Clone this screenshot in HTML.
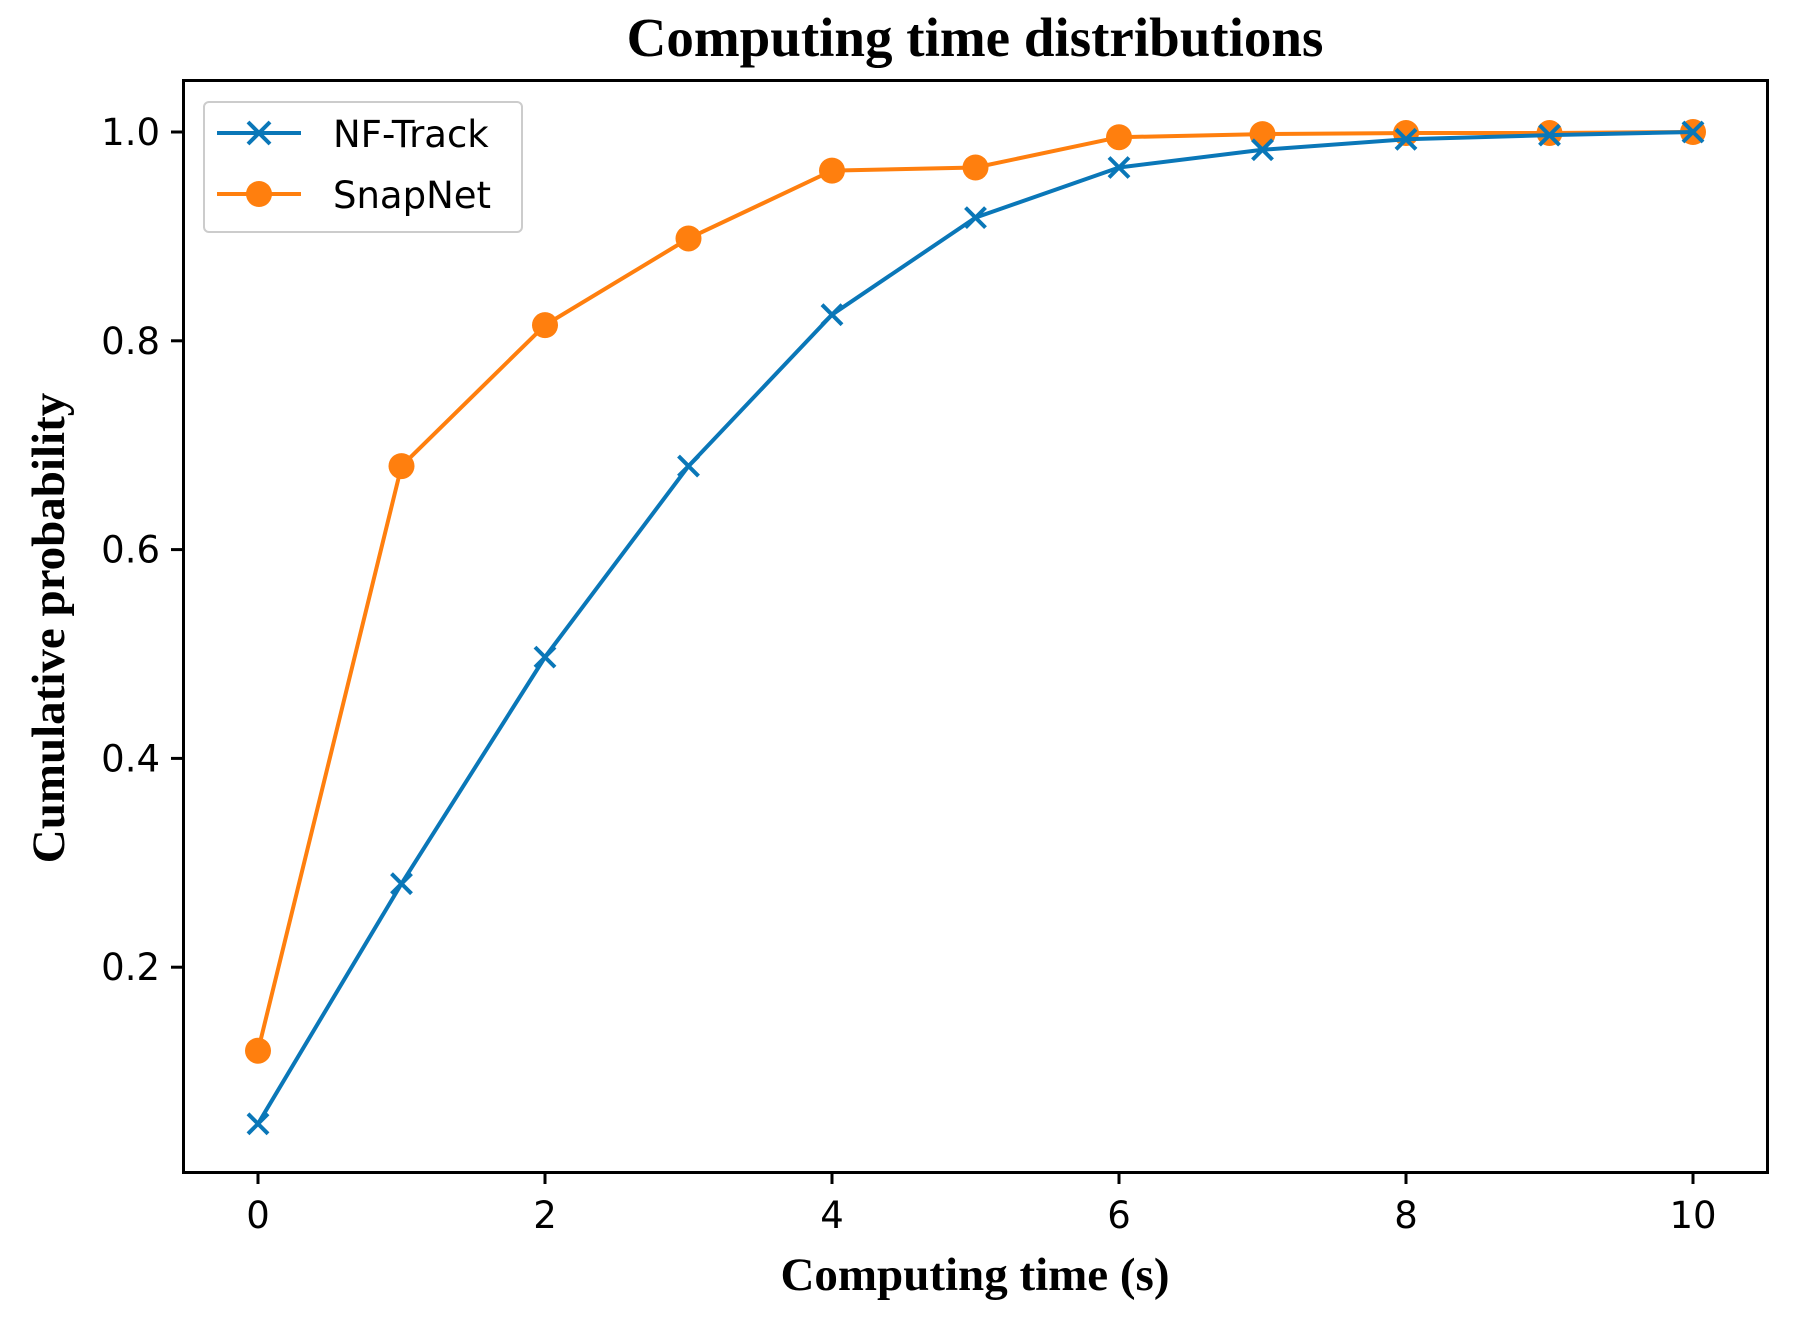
<!DOCTYPE html>
<html><head><meta charset="utf-8"><style>
html,body{margin:0;padding:0;background:#fff;}
svg text{font-family:"DejaVu Sans","Liberation Sans",sans-serif;}
</style></head><body>
<svg id="chart" width="1798" height="1332" viewBox="0 0 1798 1332" xmlns="http://www.w3.org/2000/svg">
<rect width="1798" height="1332" fill="#fff"/>
<text x="975" y="56" text-anchor="middle" style="font-family:'Liberation Serif',serif;font-weight:bold;font-size:55px">Computing time distributions</text>
<text x="975" y="1290" text-anchor="middle" style="font-family:'Liberation Serif',serif;font-weight:bold;font-size:47px">Computing time (s)</text>
<text transform="translate(64,628) rotate(-90)" text-anchor="middle" style="font-family:'Liberation Serif',serif;font-weight:bold;font-size:47px">Cumulative probability</text>
<g id="plot"></g>
<rect x="183.5" y="80.5" width="1584" height="1092" fill="none" stroke="#000" stroke-width="3"/>
<g>
<rect x="204" y="102" width="318" height="130" rx="5" fill="#fff" stroke="#ccc" stroke-width="2"/>
<g>
<line x1="217" y1="133" x2="301" y2="133" stroke="#0a77b8" stroke-width="4"/>
<path d="M248 122 L270 144 M270 122 L248 144" stroke="#0a77b8" stroke-width="4"/>
<text x="333" y="147" style="font-size:37px">NF-Track</text></g>
<g>
<line x1="217" y1="194" x2="301" y2="194" stroke="#ff7f0e" stroke-width="4"/>
<circle cx="259" cy="194" r="13" fill="#ff7f0e"/>
<text x="333" y="208" style="font-size:37px">SnapNet</text></g>
</g>
</svg>
<script>
const xValues=[0,1,2,3,4,5,6,7,8,9,10];
const nfTrack=[0.05,0.28,0.497,0.68,0.825,0.918,0.966,0.983,0.993,0.997,1.0];
const snapNet=[0.12,0.68,0.815,0.898,0.963,0.966,0.995,0.998,0.999,0.999,1.0];
const xTicks=[0,2,4,6,8,10];
const yTicks=[0.2,0.4,0.6,0.8,1.0];
const yTickLabels=["0.2","0.4","0.6","0.8","1.0"];
const NS="http://www.w3.org/2000/svg";
function xs(v){return 258+v*143.5;}
function ys(v){return 132+(1.0-v)*1044;}
const g=document.getElementById('plot');
function mk(t,a){const e=document.createElementNS(NS,t);for(const k in a)e.setAttribute(k,a[k]);g.appendChild(e);return e;}
xTicks.forEach(t=>{
 const l=mk('line',{x1:xs(t),x2:xs(t),y1:1172,y2:1184,stroke:'#000','stroke-width':3});
 
 
 const tx=mk('text',{x:xs(t),y:1228,'text-anchor':'middle','font-size':'37px'});
 tx.textContent=String(t);
 
 
});
yTicks.forEach((t,i)=>{
 const l=mk('line',{x1:171,x2:183,y1:ys(t),y2:ys(t),stroke:'#000','stroke-width':3});
 
 
 const tx=mk('text',{x:160,y:ys(t)+13,'text-anchor':'end','font-size':'37px'});
 tx.textContent=yTickLabels[i];
 
 
});
function series(vals,color,name,marker){
 const pts=xValues.map((x,i)=>xs(x)+','+ys(vals[i])).join(' ');
 const p=mk('polyline',{points:pts,fill:'none',stroke:color,'stroke-width':4,'stroke-linejoin':'round'});
 
 
 xValues.forEach((x,i)=>{
  const cx=xs(x),cy=ys(vals[i]);
  let m;
  if(marker==='x'){m=mk('path',{d:`M${cx-10} ${cy-10} L${cx+10} ${cy+10} M${cx+10} ${cy-10} L${cx-10} ${cy+10}`,stroke:color,'stroke-width':4});}
  else{m=mk('circle',{cx:cx,cy:cy,r:13,fill:color});}
  
  
 });
}
series(snapNet,'#ff7f0e','snapnet','o');
series(nfTrack,'#0a77b8','nf-track','x');
</script>
</body></html>
